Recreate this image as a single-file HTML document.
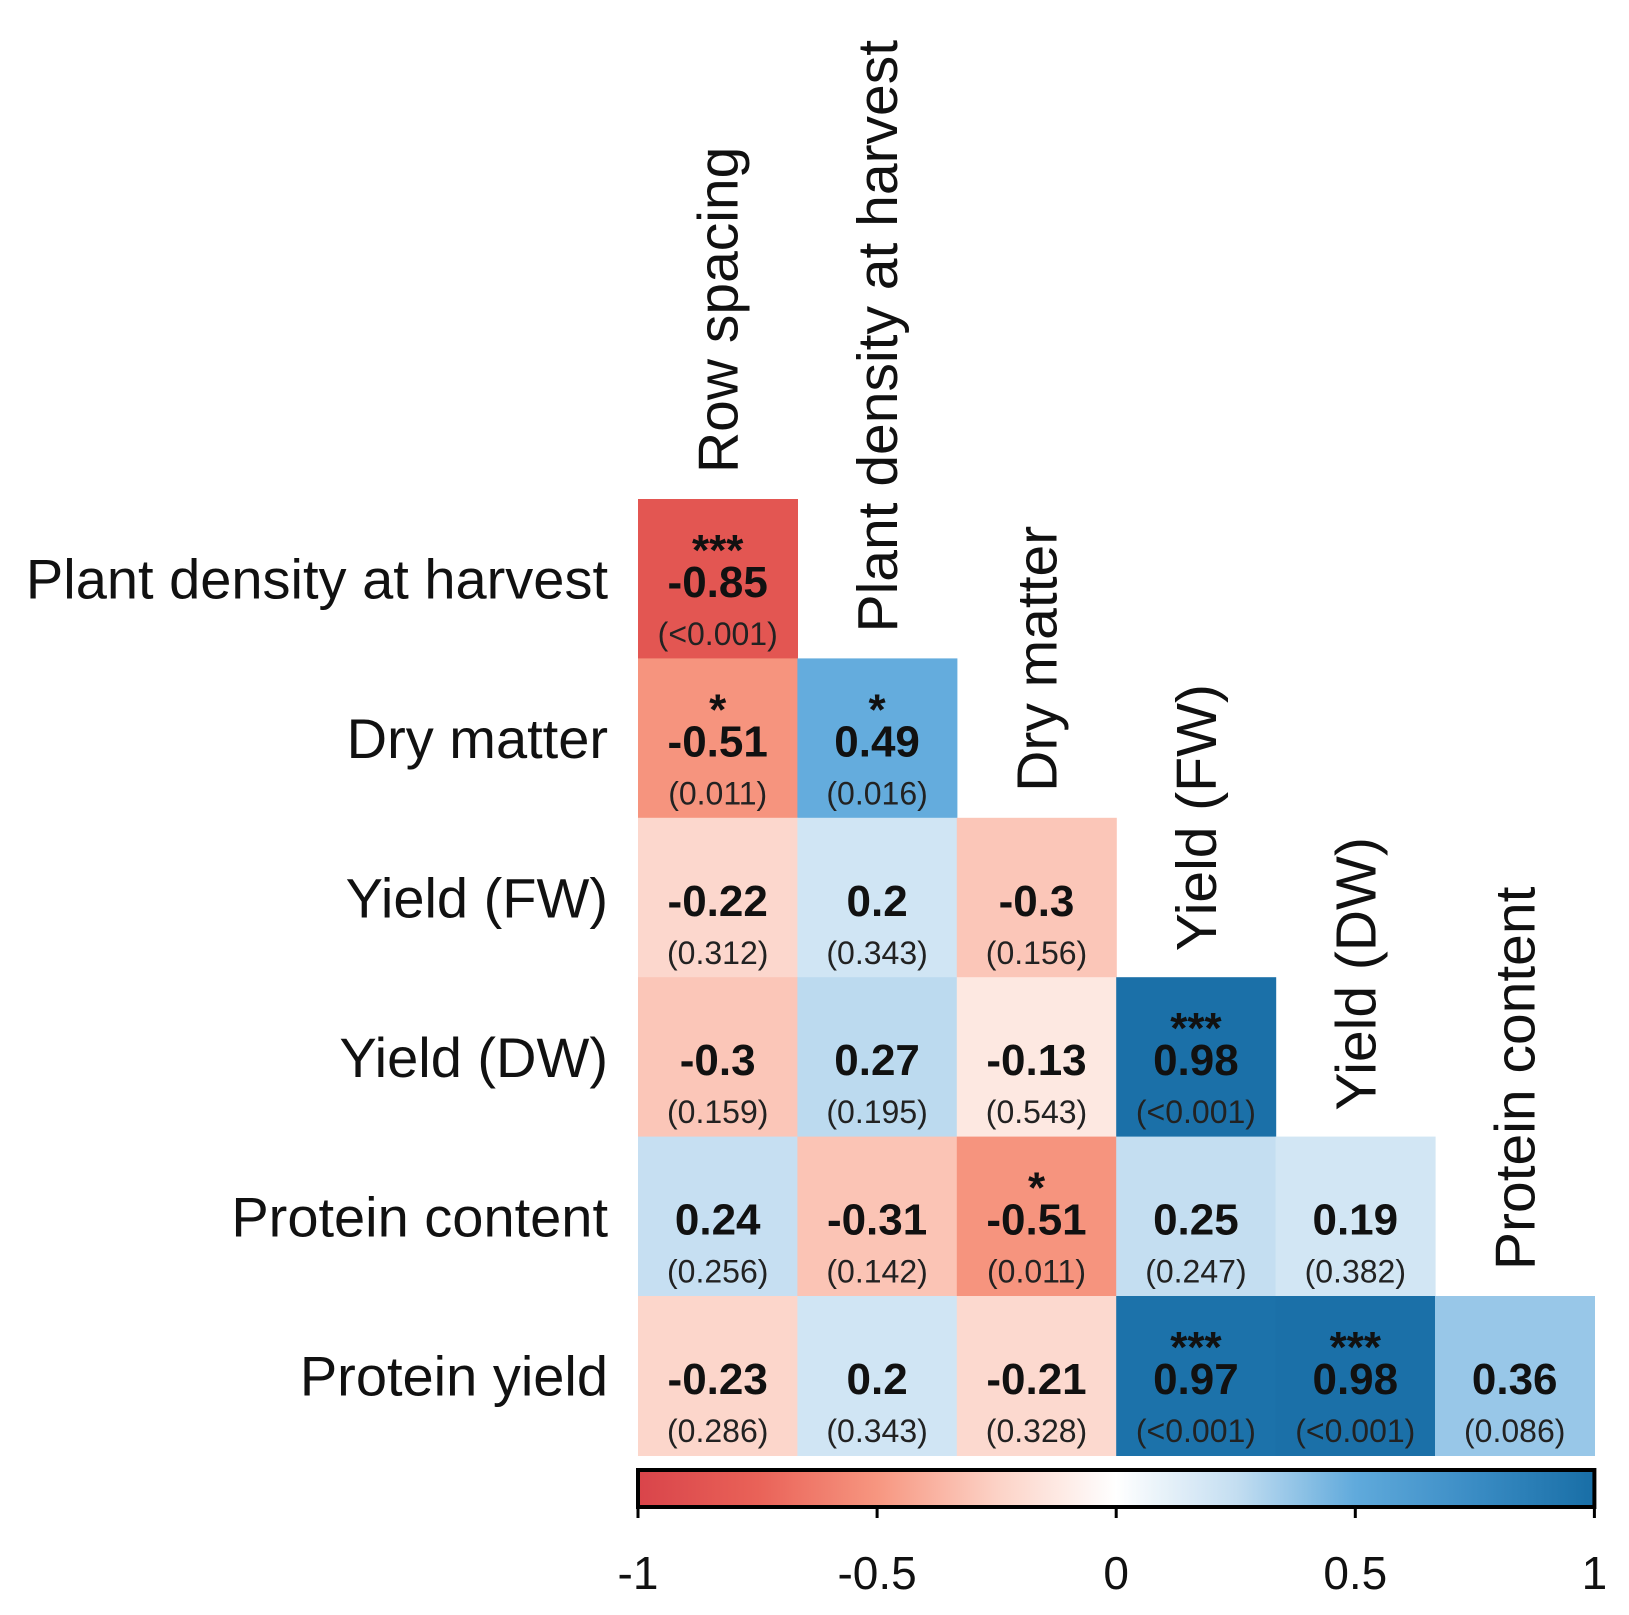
<!DOCTYPE html>
<html><head><meta charset="utf-8"><style>
html,body{margin:0;padding:0;background:#fff;}
svg{display:block;font-family:"Liberation Sans",Arial,sans-serif;}
</style></head><body>
<svg id="chart" width="1629" height="1615" viewBox="0 0 1629 1615" xmlns="http://www.w3.org/2000/svg"></svg>
<script>
const vars = ["Row spacing","Plant density at harvest","Dry matter","Yield (FW)","Yield (DW)","Protein content","Protein yield"];
// lower-triangle rows (row i+1 vs columns 0..i)
const corrValues = [
  [-0.85],
  [-0.51, 0.49],
  [-0.22, 0.2, -0.3],
  [-0.3, 0.27, -0.13, 0.98],
  [0.24, -0.31, -0.51, 0.25, 0.19],
  [-0.23, 0.2, -0.21, 0.97, 0.98, 0.36]
];
const corrLabels = [
  ["-0.85"],
  ["-0.51","0.49"],
  ["-0.22","0.2","-0.3"],
  ["-0.3","0.27","-0.13","0.98"],
  ["0.24","-0.31","-0.51","0.25","0.19"],
  ["-0.23","0.2","-0.21","0.97","0.98","0.36"]
];
const pValues = [
  ["(<0.001)"],
  ["(0.011)","(0.016)"],
  ["(0.312)","(0.343)","(0.156)"],
  ["(0.159)","(0.195)","(0.543)","(<0.001)"],
  ["(0.256)","(0.142)","(0.011)","(0.247)","(0.382)"],
  ["(0.286)","(0.343)","(0.328)","(<0.001)","(<0.001)","(0.086)"]
];
const stars = [
  ["***"],
  ["*","*"],
  ["","",""],
  ["","","","***"],
  ["","","*","",""],
  ["","","","***","***",""]
];
const ticks = [-1,-0.5,0,0.5,1];
const tickLabels = ["-1","-0.5","0","0.5","1"];

const svg = document.getElementById('chart');
const NS = "http://www.w3.org/2000/svg";
const X0 = 638, Y0 = 499, C = 159.4;
const colX = j => X0 + j*C;
const rowY = i => Y0 + i*C;
const barL = 638, barR = X0 + 6*C, barT = 1470, barB = 1507;
const barX = v => barL + (v+1)/2*(barR-barL);

const stops = [[-1,[217,68,74]],[-0.75,[233,98,88]],[-0.5,[247,150,128]],[-0.25,[252,210,198]],[0,[255,255,255]],[0.25,[196,222,241]],[0.5,[96,170,220]],[0.75,[58,140,196]],[1,[24,110,166]]];
function color(v){
  for(let k=0;k<stops.length-1;k++){
    const a=stops[k],b=stops[k+1];
    if(v<=b[0]){const t=(v-a[0])/(b[0]-a[0]);
      const c=a[1].map((x,i)=>Math.round(x+(b[1][i]-x)*t));
      return `rgb(${c[0]},${c[1]},${c[2]})`;}
  }
  return 'rgb(24,110,166)';
}
function mk(tag, attrs, text){
  const e=document.createElementNS(NS,tag);
  for(const k in attrs) e.setAttribute(k,attrs[k]);
  if(text!==undefined) e.textContent=text;
  svg.appendChild(e); return e;
}

const defs=mk('defs',{});
const lg=document.createElementNS(NS,'linearGradient');
lg.setAttribute('id','cbar');
defs.appendChild(lg);
for(let k=0;k<=40;k++){
  const v=-1+k/20;
  const s=document.createElementNS(NS,'stop');
  s.setAttribute('offset',(k/40*100)+'%');
  s.setAttribute('stop-color',color(v));
  lg.appendChild(s);
}

corrValues.forEach((row,i)=>{
  row.forEach((v,j)=>{
    const x=colX(j), y=rowY(i);
    const r=mk('rect',{x:x,y:y,width:C+0.6,height:C+0.6,fill:color(v)});
    
    
    const cx=x+C/2;
    if(stars[i][j]){
      const s=mk('text',{x:cx,y:y+66,'text-anchor':'middle','font-size':44,'font-weight':'bold',fill:'#111'},stars[i][j]);
      
      
    }
    const t=mk('text',{x:cx,y:y+98,'text-anchor':'middle','font-size':44,'font-weight':'bold',fill:'#111'},corrLabels[i][j]);
    
    
    const p=mk('text',{x:cx,y:y+146,'text-anchor':'middle','font-size':32,fill:'#222'},pValues[i][j]);
    
    
  });
});

for(let i=1;i<vars.length;i++){
  const t=mk('text',{x:608,y:rowY(i-1)+C/2+20,'text-anchor':'end','font-size':56,fill:'#111'},vars[i]);
  
  
}
for(let j=0;j<vars.length-1;j++){
  const cx=colX(j)+C/2+20, by=rowY(j)-26;
  const t=mk('text',{x:0,y:0,'text-anchor':'start','font-size':57,fill:'#111',transform:`translate(${cx},${by}) rotate(-90)`},vars[j]);
  
  
}

const cb=mk('rect',{x:barL,y:barT,width:barR-barL,height:barB-barT,fill:'url(#cbar)',stroke:'#000','stroke-width':4});


ticks.forEach((v,k)=>{
  const l=mk('line',{x1:barX(v),x2:barX(v),y1:barB,y2:barB+11,stroke:'#000','stroke-width':3});
  
  
  const t=mk('text',{x:barX(v),y:1589,'text-anchor':'middle','font-size':46,fill:'#111'},tickLabels[k]);
  
  
});
</script>
</body></html>
